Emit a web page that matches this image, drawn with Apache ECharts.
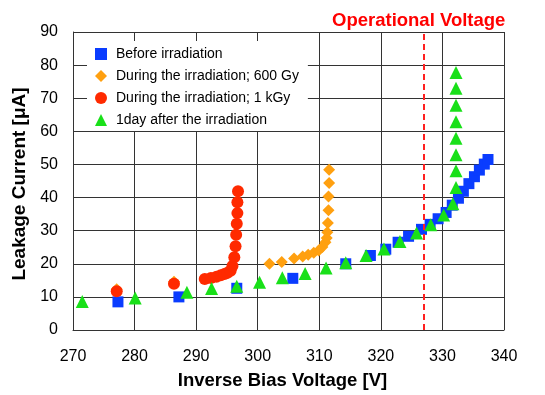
<!DOCTYPE html>
<html>
<head>
<meta charset="utf-8">
<script src="https://cdn.jsdelivr.net/npm/echarts@6/dist/echarts.min.js"></script>
<style>
  html, body { margin: 0; padding: 0; background: #fff; }
  #chart { width: 545px; height: 395px; }
</style>
</head>
<body>
<div id="chart"></div>
<script>
// [voltage V, current uA]
var beforeIrr = [[277.3, 8.5], [287.2, 10.0], [296.6, 12.6], [305.7, 15.6], [314.3, 20.0],
  [318.3, 22.5], [320.8, 24.4], [322.8, 26.5], [324.5, 28.3], [326.6, 30.4], [328.0, 31.9],
  [329.3, 33.6], [330.6, 35.5], [331.6, 37.7], [332.6, 39.8], [333.4, 41.9], [334.3, 44.2],
  [335.2, 46.3], [336.0, 48.3], [336.8, 50.1], [337.4, 51.5]];
var during600 = [[277.1, 12.3], [286.4, 14.6], [301.9, 20.0], [303.9, 20.5], [305.9, 21.6],
  [307.3, 22.2], [308.2, 22.7], [309.1, 23.3], [309.9, 24.0], [310.5, 25.1], [311.0, 26.5],
  [311.2, 27.8], [311.3, 29.5], [311.4, 32.3], [311.5, 36.2], [311.5, 40.3], [311.6, 44.4],
  [311.6, 48.4]];
var during1k = [[277.1, 11.7], [286.4, 14.0], [291.4, 15.4], [292.4, 15.7], [293.3, 16.1],
  [294.0, 16.5], [294.6, 16.9], [295.1, 17.3], [295.6, 17.9], [295.9, 19.3], [296.2, 22.0],
  [296.4, 25.3], [296.5, 28.8], [296.6, 32.1], [296.7, 35.3], [296.7, 38.6], [296.8, 41.9]];
var afterDay = [[271.5, 8.6], [280.1, 9.7], [288.5, 11.4], [292.5, 12.5], [296.6, 13.2],
  [300.3, 14.4], [304.0, 15.8], [307.7, 17.1], [311.1, 18.7], [314.3, 20.3], [317.6, 22.5],
  [320.5, 24.5], [323.1, 26.7], [325.8, 29.3], [328.1, 31.8], [330.2, 34.7], [331.7, 38.1],
  [332.2, 43.0], [332.2, 48.1], [332.2, 52.9], [332.2, 57.9], [332.2, 62.9], [332.2, 67.9],
  [332.2, 73.0], [332.2, 77.8]];
var operationalVoltage = 326.9;

var chart = echarts.init(document.getElementById('chart'));
var lineCol = '#333';
chart.setOption({
  animation: false,
  title: {
    text: 'Operational Voltage',
    left: 327, top: 6,
    textStyle: { color: '#ff0000', fontSize: 18.5, fontWeight: 'bold', fontFamily: 'Liberation Sans' }
  },
  legend: {
    left: 87, top: 41,
    orient: 'vertical',
    backgroundColor: '#fff',
    padding: [6, 9, 4, 8],
    itemGap: 8,
    itemWidth: 12, itemHeight: 12,
    textStyle: { fontSize: 14, color: '#000', fontFamily: 'Liberation Sans', padding: [0, 0, 0, 4] },
    data: ['Before irradiation', 'During the irradiation; 600 Gy', 'During the irradiation; 1 kGy', '1day after the irradiation']
  },
  grid: { left: 73, right: 41, top: 32, bottom: 64 },
  xAxis: {
    type: 'value', min: 270, max: 340, interval: 10,
    name: 'Inverse Bias Voltage [V]', nameLocation: 'middle', nameGap: 41,
    nameTextStyle: { fontSize: 18.5, fontWeight: 'bold', color: '#000', fontFamily: 'Liberation Sans', padding: [0, 12, 0, 0] },
    axisLine: { lineStyle: { color: lineCol } },
    axisTick: { show: false },
    axisLabel: { fontSize: 16, color: '#000', margin: 19, fontFamily: 'Liberation Sans' },
    splitLine: { show: true, lineStyle: { color: lineCol, width: 1 } }
  },
  yAxis: {
    type: 'value', min: 0, max: 90, interval: 10,
    name: 'Leakage Current [\u03bcA]', nameLocation: 'middle', nameGap: 44,
    nameTextStyle: { fontSize: 19, fontWeight: 'bold', color: '#000', fontFamily: 'Liberation Sans', padding: [0, 6, 0, 0] },
    axisLine: { show: true, lineStyle: { color: lineCol } },
    axisTick: { show: false },
    axisLabel: { fontSize: 16, color: '#000', margin: 15, fontFamily: 'Liberation Sans' },
    splitLine: { show: true, lineStyle: { color: lineCol, width: 1 } }
  },
  series: [
    {
      name: 'Before irradiation', type: 'scatter', symbol: 'rect', symbolSize: 11,
      itemStyle: { color: '#0a3cff', opacity: 1 }, data: beforeIrr,
      markLine: {
        silent: true, symbol: 'none', label: { show: false },
        lineStyle: { color: '#ff2020', type: [6, 4], width: 2 },
        data: [{ xAxis: operationalVoltage }]
      }
    },
    {
      name: 'During the irradiation; 600 Gy', type: 'scatter', symbol: 'diamond', symbolSize: 12,
      itemStyle: { color: '#ffa010', opacity: 1 }, data: during600
    },
    {
      name: 'During the irradiation; 1 kGy', type: 'scatter', symbol: 'circle', symbolSize: 12,
      itemStyle: { color: '#ff2a00', opacity: 1 }, data: during1k
    },
    {
      name: '1day after the irradiation', type: 'scatter', symbol: 'triangle', symbolSize: 13,
      itemStyle: { color: '#19e019', opacity: 1 }, data: afterDay
    }
  ]
});
</script>
</body>
</html>
